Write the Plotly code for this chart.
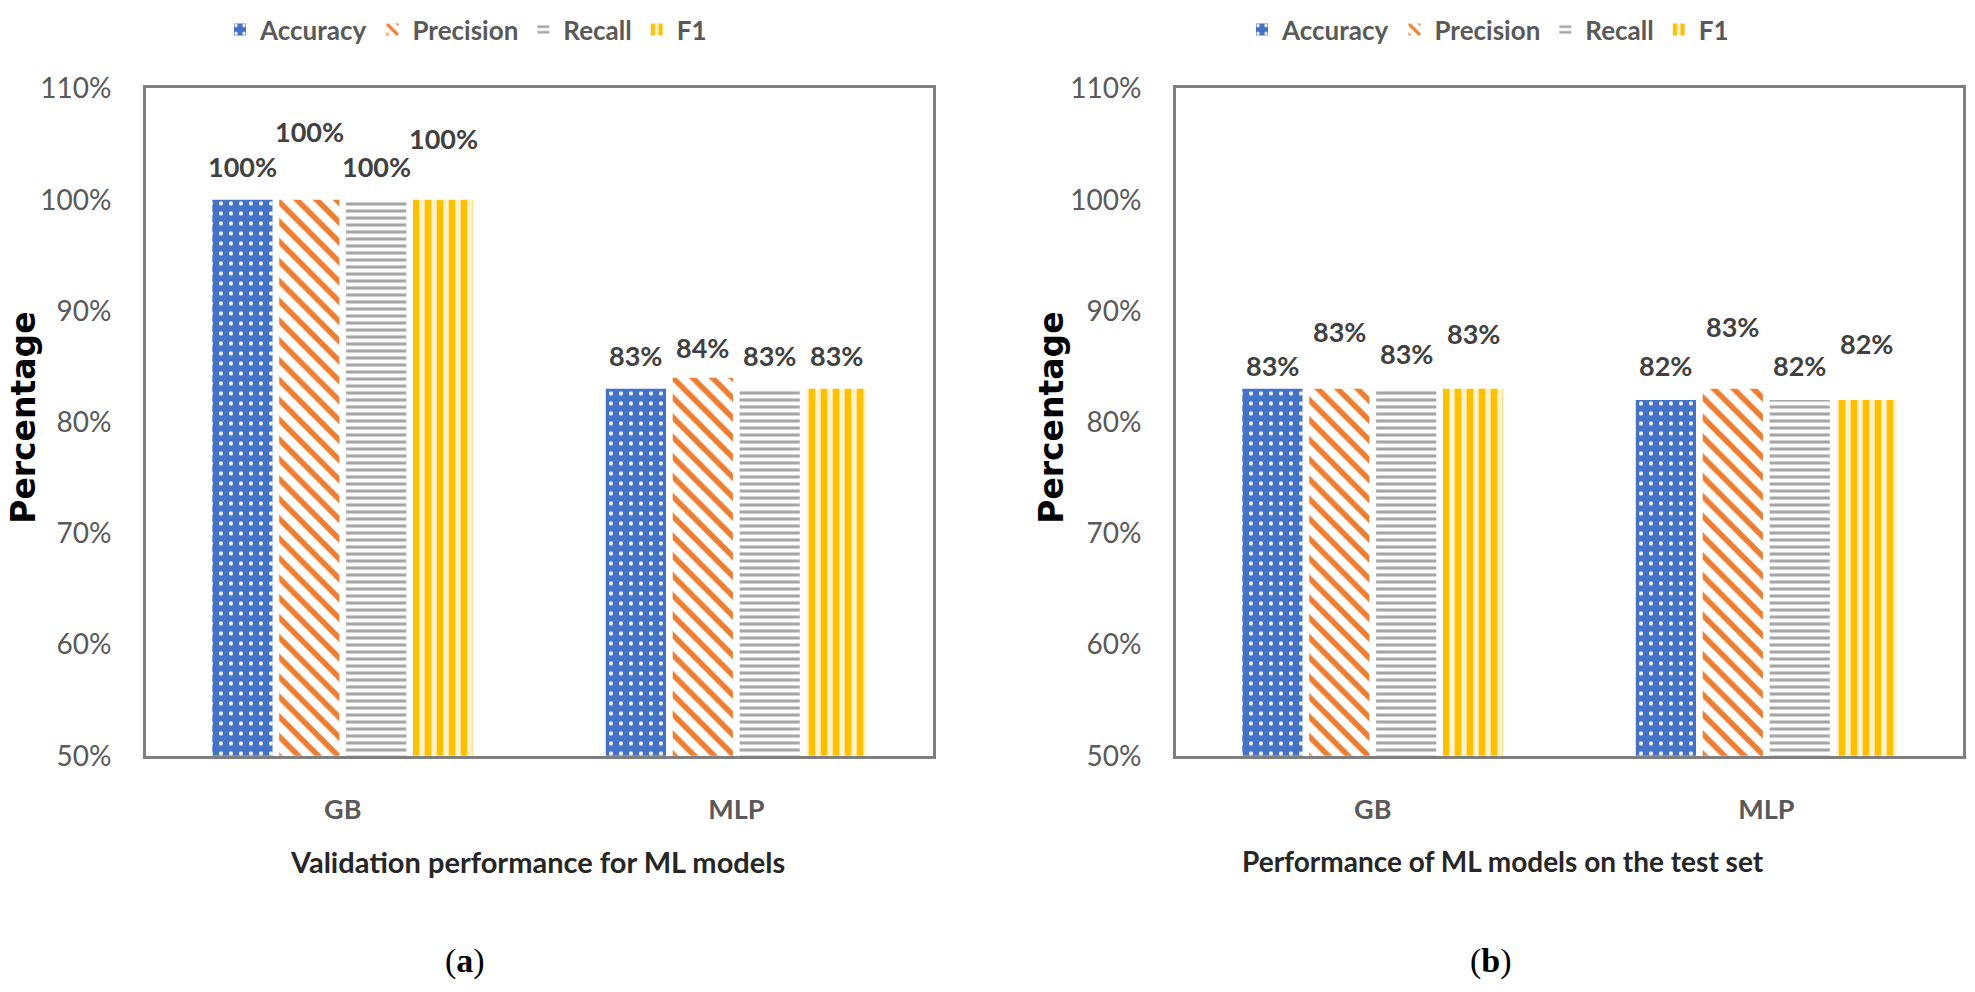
import plotly.graph_objects as go

# ---------------- data ----------------
categories = ["GB", "MLP"]
metrics = ["Accuracy", "Precision", "Recall", "F1"]

# panel (a) validation performance
val_accuracy = [1.00, 0.83]
val_precision = [1.00, 0.84]
val_recall = [1.00, 0.83]
val_f1 = [1.00, 0.83]

# panel (b) test set performance
test_accuracy = [0.83, 0.82]
test_precision = [0.83, 0.83]
test_recall = [0.83, 0.82]
test_f1 = [0.83, 0.82]

y_ticks = [0.5, 0.6, 0.7, 0.8, 0.9, 1.0, 1.1]

left_xtitle = "Validation performance for ML models"
right_xtitle = "Performance of ML models on the test set"
ytitle = "Percentage"

# ---------------- styles ----------------
W, H = 1975, 992
FONT = "Lato, 'Open Sans', sans-serif"
GRAY_TXT = "#595959"
LBL_TXT = "#404040"

styles = {
    "Accuracy": dict(color="#4472C4", pattern=dict(shape=".", fgcolor="#FFFFFF", bgcolor="#4472C4",
                                                   size=10, solidity=0.14, fillmode="replace")),
    "Precision": dict(color="#FFFFFF", pattern=dict(shape="\\", fgcolor="#ED7D31", bgcolor="#FFFFFF",
                                                    size=14, solidity=0.4, fillmode="replace")),
    "Recall": dict(color="#FFFFFF", pattern=dict(shape="-", fgcolor="#A5A5A5", bgcolor="#FFFFFF",
                                                 size=7, solidity=0.45, fillmode="replace")),
    "F1": dict(color="#FFC000", pattern=dict(shape="|", fgcolor="#FFC000", bgcolor="#FFF2CC",
                                             size=12, solidity=0.55, fillmode="replace")),
}

# label vertical offsets (px above the bar top), per panel / category / metric
left_label_shift = {"GB": [33, 68, 33, 61], "MLP": [33, 30, 33, 33]}
right_label_shift = {"GB": [23, 57, 35, 55], "MLP": [34, 62, 34, 56]}

SLOT = 67  # px between bar centres in a group

def px_x(p):
    return p / W

def px_y(p):
    return 1 - p / H

fig = go.Figure()

panels = [
    ("x", "y", "legend", [val_accuracy, val_precision, val_recall, val_f1], left_label_shift),
    ("x2", "y2", "legend2", [test_accuracy, test_precision, test_recall, test_f1], right_label_shift),
]

annotations = []
for xa, ya, lg, series, shifts in panels:
    for i, (m, vals) in enumerate(zip(metrics, series)):
        st = styles[m]
        fig.add_trace(go.Bar(
            x=categories, y=vals, name=m, xaxis=xa, yaxis=ya, legend=lg,
            marker=dict(color=st["color"], pattern=st["pattern"], line=dict(width=0)),
            hoverinfo="skip",
        ))
        for c, v in zip(categories, vals):
            annotations.append(dict(
                x=c, y=v, xref=xa, yref=ya, text=f"<b>{v:.0%}</b>", showarrow=False,
                xshift=(i - 1.5) * SLOT, yshift=shifts[c][i], yanchor="middle",
                font=dict(family=FONT, size=27, color=LBL_TXT),
            ))

# axis titles and captions
for txt, x, fs in [(left_xtitle, 537, 29), (right_xtitle, 1503, 28)]:
    annotations.append(dict(x=px_x(x), y=px_y(873), xref="paper", yref="paper", text=f"<b>{txt}</b>",
                            showarrow=False, xanchor="center", yanchor="middle",
                            font=dict(family=FONT, size=fs, color="#262626")))
for x in [24, 1052]:
    annotations.append(dict(x=px_x(x), y=px_y(414), xref="paper", yref="paper", text=f"<b>{ytitle}</b>",
                            showarrow=False, textangle=-90, xanchor="center", yanchor="middle",
                            font=dict(family="DejaVu Sans", size=33, color="#000000")))
for lab, x in [("a", 465), ("b", 1491)]:
    annotations.append(dict(x=px_x(x), y=px_y(976), xref="paper", yref="paper", text=f"(<b>{lab}</b>)",
                            showarrow=False, xanchor="center", yanchor="middle",
                            font=dict(family="Liberation Serif", size=34, color="#000000")))

axis_line = dict(showline=True, linewidth=3, linecolor="#7F7F7F", mirror=True, showgrid=False,
                 zeroline=False, ticks="")
xcommon = dict(axis_line, type="category", range=[-0.5, 1.5], ticklabelstandoff=28,
               tickfont=dict(family=FONT, size=27, color=GRAY_TXT, weight="bold"))
ycommon = dict(axis_line, range=[0.5, 1.1], tickvals=y_ticks, tickformat=".0%", ticklabelstandoff=26,
               tickfont=dict(family=FONT, size=28, color=GRAY_TXT))

ydom = [px_y(764), px_y(73)]
legend_common = dict(orientation="h", xanchor="center", yanchor="middle", y=px_y(12),
                     font=dict(family=FONT, size=26, color=GRAY_TXT, weight="bold"),
                     bgcolor="rgba(0,0,0,0)", itemclick=False, itemdoubleclick=False)

fig.update_layout(
    width=W, height=H, margin=dict(l=0, r=0, t=0, b=0),
    paper_bgcolor="white", plot_bgcolor="white",
    barmode="group", bargap=0.32, bargroupgap=0.1,
    xaxis=dict(xcommon, domain=[px_x(146), px_x(933)], anchor="y"),
    yaxis=dict(ycommon, domain=ydom, anchor="x"),
    xaxis2=dict(xcommon, domain=[px_x(1176), px_x(1963)], anchor="y2"),
    yaxis2=dict(ycommon, domain=ydom, anchor="x2"),
    legend=dict(legend_common, x=px_x(466)),
    legend2=dict(legend_common, x=px_x(1488)),
    annotations=annotations,
    showlegend=True,
)

# pin the figure to the top-left corner of the page (no default body margin / scroll)
pin_js = (
    "document.body.style.margin='0';"
    "document.body.style.overflow='hidden';"
    "var gd=document.getElementById('{plot_id}');"
    "gd.style.position='fixed';gd.style.top='0px';gd.style.left='0px';"
)

fig.write_html("out.html", post_script=pin_js, config={"displayModeBar": False})
